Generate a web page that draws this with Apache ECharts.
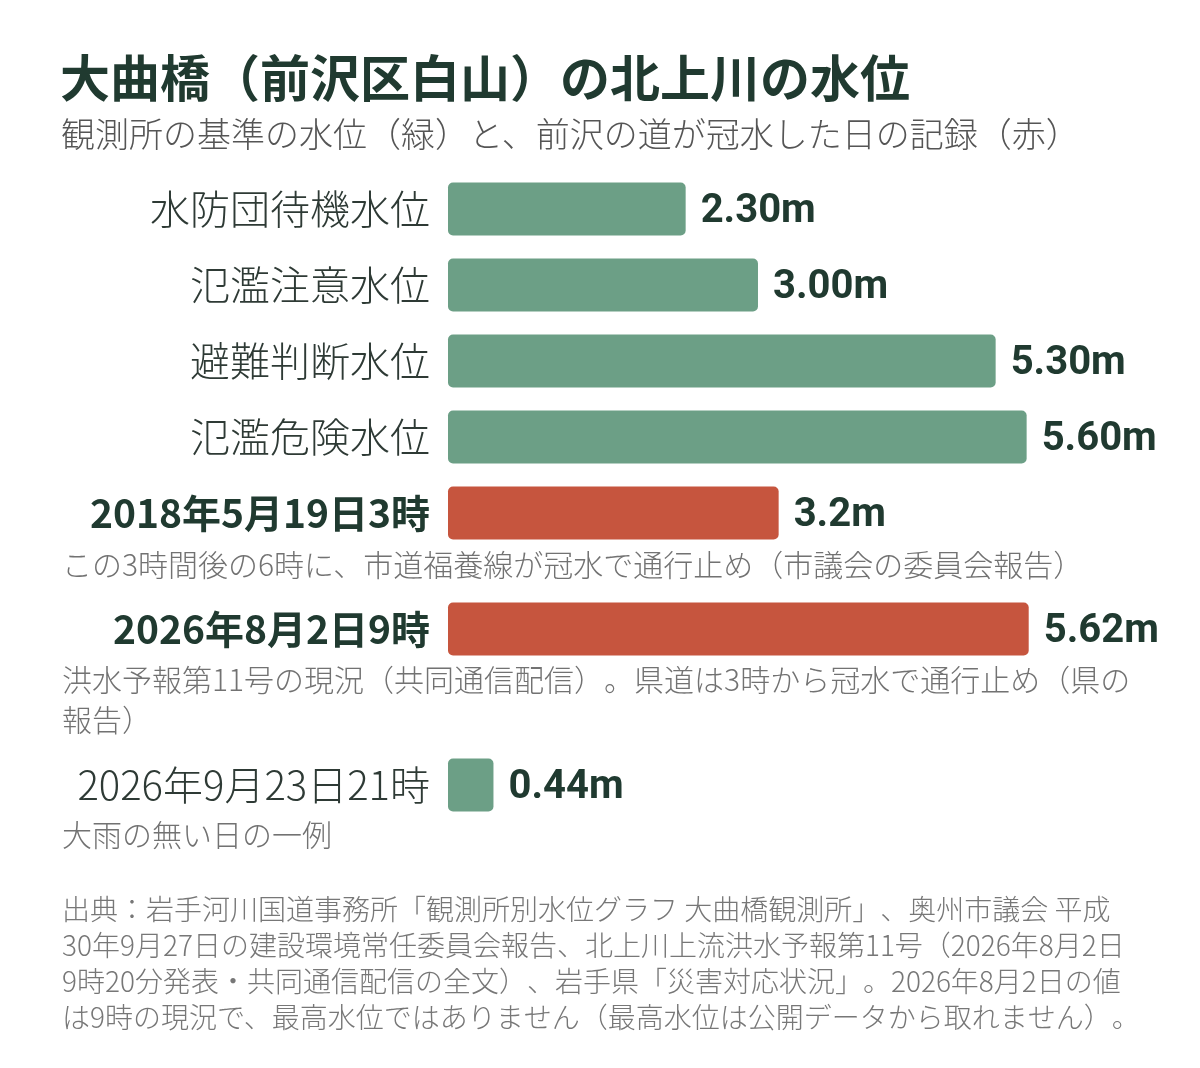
<!DOCTYPE html>
<html>
<head>
<meta charset="utf-8">
<script src="https://cdn.jsdelivr.net/npm/echarts@6/dist/echarts.min.js"></script>
<style>
  html, body { margin: 0; padding: 0; background: #fff; }
  #chart { width: 1200px; height: 1068px; }
</style>
</head>
<body>
<div id="chart"></div>
<script>
// 基準の水位（緑）
const levelNames = ['水防団待機水位', '氾濫注意水位', '避難判断水位', '氾濫危険水位']
const levelValues = [2.30, 3.00, 5.30, 5.60]
const levelLabels = ['2.30m', '3.00m', '5.30m', '5.60m']

// 記録（赤は冠水した日、緑は平常時の例）
const eventNames = ['2018年5月19日3時', '2026年8月2日9時', '2026年9月23日21時']
const eventValues = [3.2, 5.62, 0.44]
const eventLabels = ['3.2m', '5.62m', '0.44m']
const eventFlooded = [true, true, false]

const eventNotes = [
  'この3時間後の6時に、市道福養線が冠水で通行止め（市議会の委員会報告）',
  '洪水予報第11号の現況（共同通信配信）。県道は3時から冠水で通行止め（県の\n報告）',
  '大雨の無い日の一例'
]

const titleText = '大曲橋（前沢区白山）の北上川の水位'
const subtitleText = '観測所の基準の水位（緑）と、前沢の道が冠水した日の記録（赤）'
const sourceText = [
  '出典：岩手河川国道事務所「観測所別水位グラフ 大曲橋観測所」、奥州市議会 平成',
  '30年9月27日の建設環境常任委員会報告、北上川上流洪水予報第11号（2026年8月2日',
  '9時20分発表・共同通信配信の全文）、岩手県「災害対応状況」。2026年8月2日の値',
  'は9時の現況で、最高水位ではありません（最高水位は公開データから取れません）。'
].join('\n')

const GREEN = '#6c9f86'
const RED = '#c6553e'
const DARK = '#203a30'
const JP = '"Noto Sans CJK JP", sans-serif'

// 「）、」のような続く約物をブラウザが詰めないよう、別のrich片に分ける
function keepPunct(text, style) {
  return '{' + style + '|' + text.replace(/([）」])([、。])/g, '$1}{' + style + '|$2') + '}'
}

// 5行 + 1行 + 1行 の3つのグリッドで並べる
const rows = [
  { names: levelNames.concat(eventNames[0]), values: levelValues.concat(eventValues[0]),
    labels: levelLabels.concat(eventLabels[0]), flooded: [false, false, false, false, eventFlooded[0]],
    top: 171, height: 380 },
  { names: [eventNames[1]], values: [eventValues[1]], labels: [eventLabels[1]],
    flooded: [eventFlooded[1]], top: 591, height: 76 },
  { names: [eventNames[2]], values: [eventValues[2]], labels: [eventLabels[2]],
    flooded: [eventFlooded[2]], top: 747, height: 76 }
]

const grids = rows.map(r => ({
  left: 448, width: 723.3, top: r.top, height: r.height,
  containLabel: false, outerBoundsMode: 'none'
}))

const xAxes = rows.map((r, i) => ({
  type: 'value', gridIndex: i, min: 0, max: 7, show: false
}))

const yAxes = rows.map((r, i) => ({
  type: 'category', gridIndex: i, inverse: true, data: r.names,
  axisLine: { show: false }, axisTick: { show: false }, splitLine: { show: false },
  axisLabel: {
    margin: 18,
    formatter: (v, idx) => (r.flooded[idx] ? '{b|' + v + '}' : '{n|' + v + '}'),
    rich: {
      n: { fontFamily: JP, fontSize: 40, fontWeight: 300, color: '#2e3a35' },
      b: { fontFamily: JP, fontSize: 39, fontWeight: 'bold', color: DARK }
    }
  }
}))

const series = rows.map((r, i) => ({
  type: 'bar', xAxisIndex: i, yAxisIndex: i, barWidth: 53,
  data: r.values.map((v, k) => ({
    value: v,
    itemStyle: { color: r.flooded[k] ? RED : GREEN, borderRadius: 5 }
  })),
  label: {
    show: true, position: 'right', distance: 15, offset: [0, 3],
    formatter: p => r.labels[p.dataIndex],
    fontFamily: 'Roboto, sans-serif', fontSize: 40, fontWeight: 'bold', color: DARK
  },
  emphasis: { disabled: true },
  animation: false
}))

const noteY = [565, 680, 835]
const graphic = [
  { type: 'text', left: 60, top: 53,
    style: { text: titleText, font: 'bold 50px ' + JP, fill: DARK } },
  { type: 'text', left: 61, top: 117,
    style: { text: subtitleText, font: '300 34px ' + JP, fill: '#555' } },
  { type: 'text', left: 62, top: 895,
    style: {
      text: keepPunct(sourceText, 's'),
      rich: { s: { fontFamily: JP, fontSize: 28, fontWeight: 300, fill: '#777', lineHeight: 36 } }
    } }
].concat(eventNotes.map((t, i) => ({
  type: 'text', left: 62, top: noteY[i] - 15,
  style: {
    text: keepPunct(t, 'a'),
    rich: { a: { fontFamily: JP, fontSize: 30, fontWeight: 300, fill: '#727272', lineHeight: 40 } }
  }
})))

const myChart = echarts.init(document.getElementById('chart'))
myChart.setOption({
  backgroundColor: '#fff',
  animation: false,
  grid: grids,
  xAxis: xAxes,
  yAxis: yAxes,
  series: series,
  graphic: graphic
})
</script>
</body>
</html>
